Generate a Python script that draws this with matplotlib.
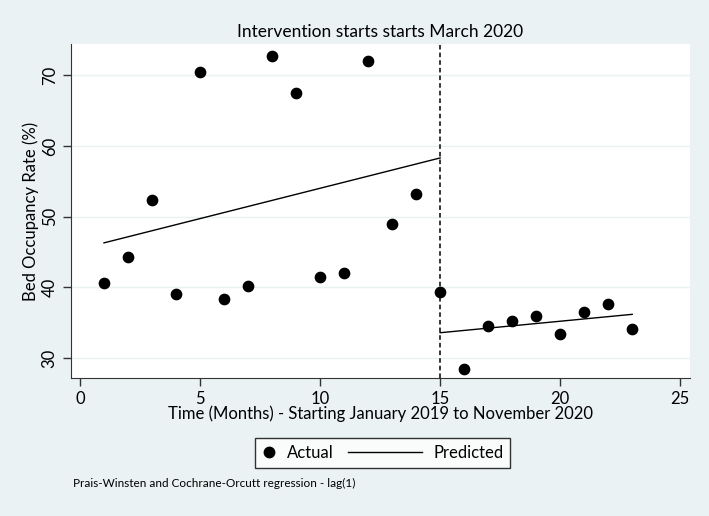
import matplotlib.pyplot as plt
from matplotlib.lines import Line2D
from matplotlib.legend_handler import HandlerBase

# Monthly bed occupancy (actual)
months = list(range(1, 24))
occupancy = [40.6, 44.3, 52.4, 39.1, 70.4, 38.4, 40.2, 72.7, 67.5, 41.5, 42.0, 72.0,
             48.9, 53.2, 39.3, 28.5, 34.5, 35.3, 36.0, 33.4, 36.5, 37.7, 34.1]

# Fitted segments (Prais-Winsten)
pred_pre_x = [1, 15]
pred_pre_y = [46.3, 58.3]
pred_post_x = [15, 23]
pred_post_y = [33.6, 36.2]

intervention = 15
xticks = [0, 5, 10, 15, 20, 25]
yticks = [30, 40, 50, 60, 70]

bg = "#eaf2f3"
plt.rcParams["font.family"] = ["Lato", "DejaVu Sans"]


class LongLineHandler(HandlerBase):
    """Stata-like legend key: line reaching left into the column gap."""

    def __init__(self, extend):
        super().__init__()
        self.extend = extend

    def create_artists(self, legend, orig_handle, xdescent, ydescent, width, height, fontsize, trans):
        y = (height - ydescent) / 2.0
        line = Line2D([-xdescent - self.extend, -xdescent + width], [y, y], color="black", lw=1.0)
        line.set_transform(trans)
        return [line]


fig = plt.figure(figsize=(7.09, 5.16), dpi=100, facecolor=bg)
ax = fig.add_axes([0.1001, 0.2674, 0.8729, 0.6473])
ax.set_facecolor("white")

for y in yticks:
    ax.axhline(y, color=bg, lw=1.0, zorder=0)

ax.scatter(months, occupancy, s=55, color="black", zorder=3)
ax.plot(pred_pre_x, pred_pre_y, color="black", lw=1.0)
ax.plot(pred_post_x, pred_post_y, color="black", lw=1.0)
ax.axvline(intervention, color="black", lw=1.1, ls=(0, (3, 2)))

ax.set_xlim(-0.375, 25.4)
ax.set_ylim(27.2, 74.4)
ax.set_xticks(xticks)
ax.set_yticks(yticks)
ax.tick_params(axis="both", direction="out", length=6, width=1, labelsize=12, color="#333333")
ax.tick_params(axis="y", labelrotation=90)
for lab in ax.get_yticklabels():
    lab.set_va("center")

for s in ["top", "right"]:
    ax.spines[s].set_visible(False)
for s in ["left", "bottom"]:
    ax.spines[s].set_color("#333333")

ax.set_title("Intervention starts starts March 2020", fontsize=12.5, pad=5)
ax.set_xlabel("Time (Months) - Starting January 2019 to November 2020", fontsize=12, labelpad=-1)
ax.set_ylabel("Bed Occupancy Rate (%)", fontsize=12, labelpad=2)

actual_key = Line2D([], [], marker="o", ls="none", color="black", markersize=7.5)
pred_key = Line2D([], [], color="black", lw=1.0)
leg = fig.legend([actual_key, pred_key], ["Actual", "Predicted"], loc="center",
                 bbox_to_anchor=(0.54, 0.122), ncol=2, frameon=True, fancybox=False,
                 edgecolor="black", fontsize=12, handlelength=0.8, handletextpad=0.7,
                 columnspacing=4.5, borderpad=0.4, borderaxespad=0,
                 handler_map={pred_key: LongLineHandler(extend=44)})
leg.get_frame().set_linewidth(1.0)

fig.text(0.103, 0.056, "Prais-Winsten and Cochrane-Orcutt regression - lag(1)", fontsize=8.5)

fig.savefig("out.png", dpi=100, facecolor=bg)
